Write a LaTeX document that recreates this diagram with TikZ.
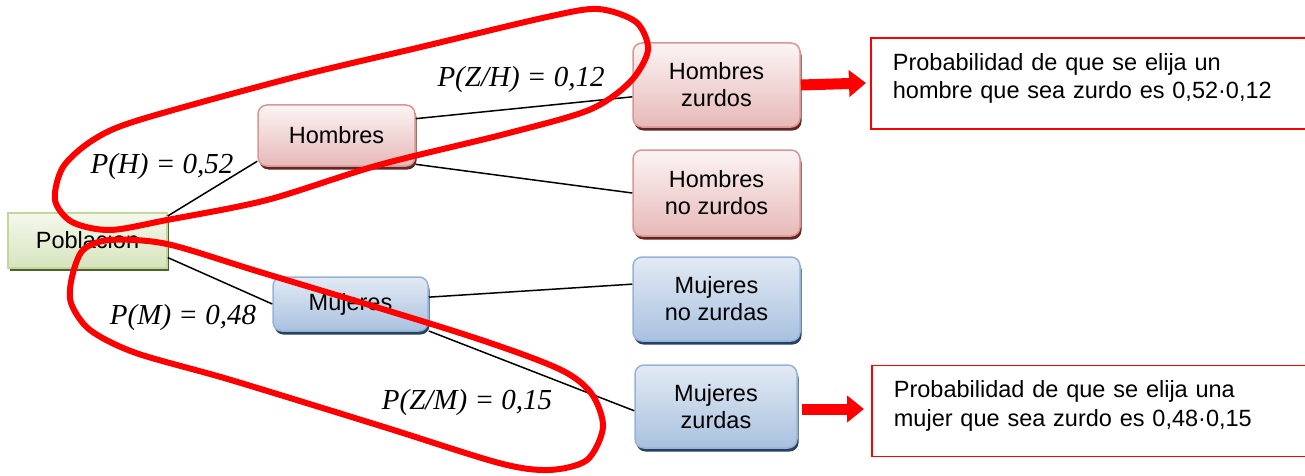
\documentclass[tikz,border=0pt]{standalone}
\usepackage{fontspec}
\setmainfont{Liberation Sans}
\newfontfamily\probfont{Liberation Serif}
\usetikzlibrary{arrows.meta,shadows}

\definecolor{grnTop}{HTML}{F4F8EC}
\definecolor{grnBot}{HTML}{D7E4BD}
\definecolor{grnLine}{HTML}{C3D69B}
\definecolor{grnShadow}{HTML}{4F6228}
\definecolor{redTop}{HTML}{FCF4F4}
\definecolor{redBot}{HTML}{E6B9B8}
\definecolor{redLine}{HTML}{D99694}
\definecolor{redShadow}{HTML}{632523}
\definecolor{bluTop}{HTML}{E2EAF4}
\definecolor{bluBot}{HTML}{A9C1DF}
\definecolor{bluLine}{HTML}{95B3D7}
\definecolor{bluShadow}{HTML}{254061}

\tikzset{
  box/.style={line width=1.5pt,align=center,inner sep=2pt,font=\fontsize{23.5}{27}\selectfont},
  grnbox/.style={box,draw=grnLine,top color=grnTop,bottom color=grnBot,
    general shadow={fill=grnShadow,shadow xshift=2pt,shadow yshift=-3pt}},
  redbox/.style={box,draw=redLine,rounded corners=9pt,top color=redTop,bottom color=redBot,
    general shadow={fill=redShadow,shadow xshift=1.5pt,shadow yshift=-3.5pt}},
  blubox/.style={box,draw=bluLine,rounded corners=9pt,top color=bluTop,bottom color=bluBot,
    general shadow={fill=bluShadow,shadow xshift=1.5pt,shadow yshift=-3.5pt}},
  infobox/.style={draw=red,line width=1.8pt,align=left,text width=400pt,inner xsep=22pt,
    minimum height=91pt,font=\fontsize{23.5}{28.5}\selectfont},
  branch/.style={line width=1.5pt,black},
  lbl/.style={inner sep=0pt,font=\probfont\itshape\fontsize{29}{32}\selectfont},
  ring/.style={red,line width=6pt},
  bigarrow/.style={red,line width=11pt,-{Triangle[length=17pt,width=26pt]}}
}
\newcommand{\lowpad}{\rule[-15pt]{0pt}{15pt}}

\begin{document}
\begin{tikzpicture}[x=1pt,y=-1pt]
\useasboundingbox (0,0) rectangle (1305,476);

% tree nodes
\node[grnbox,minimum width=159pt,minimum height=55pt] (pob) at (87.5,240.5) {Poblacion};
\node[redbox,minimum width=157pt,minimum height=61pt] (hom) at (336.5,135.5) {Hombres};
\node[blubox,minimum width=155pt,minimum height=54pt] (muj) at (350.5,304) {Mujeres};
\node[redbox,minimum width=167pt,minimum height=84pt] (hz) at (716.5,85) {Hombres\\zurdos};
\node[redbox,minimum width=167pt,minimum height=86pt] (hnz) at (716.5,193) {Hombres\\no zurdos};
\node[blubox,minimum width=167pt,minimum height=84pt] (mnz) at (716.5,299) {Mujeres\\no zurdas};
\node[blubox,minimum width=162pt,minimum height=83pt] (mz) at (716,406.5) {Mujeres\\zurdas};

% branches
\draw[branch] (pob.17.8)--(hom.198.6);
\draw[branch] (pob.348.3)--(muj.west);
\draw[branch] (hom.12.6)--(hz.188.2);
\draw[branch] (hom.340.7)--(hnz.west);
\draw[branch] (muj.5.2)--(mnz.170.5);
\draw[branch] (muj.341.5)--(mz.183.9);

% probabilities
\node[lbl] (ph) at (162,167) {P(H) = 0,52};
\node[lbl] (pzh) at (521,80) {P(Z/H) = 0,12};
\node[lbl] (pm) at (183,318) {P(M) = 0,48};
\node[lbl] (pzm) at (467,403) {P(Z/M) = 0,15};

% hand drawn rings
\draw[ring] plot[smooth cycle] coordinates {(55,200) (63,167) (93,140) (139,120) (295,77) (421,47)
  (547,17) (598,9) (636,22) (648,50) (630,82) (589,110) (505,134) (379,165) (267,200) (167,220)
  (110,230) (72,222)};
\draw[ring] plot[smooth cycle] coordinates {(110,240) (83,250) (72,277) (71,303) (90,330) (136,353)
  (231,380) (384,427) (499,463) (549,470) (587,460) (603,427) (591,393) (557,368) (460,333)
  (260,272) (167,244)};

% results
\node[infobox,anchor=west] (iz) at (870,83.5) {Probabilidad de que se elija un\\hombre que sea zurdo es 0,52·0,12\lowpad};
\node[infobox,anchor=west] (mzi) at (871,411) {Probabilidad de que se elija una\\mujer que sea zurdo es 0,48·0,15\lowpad};
\coordinate (ah) at (866,83);
\coordinate (am) at (864,409);
\draw[bigarrow] (hz.east)--(ah);
\draw[bigarrow,shorten <=4pt] (mz.east|-am)--(am);
\end{tikzpicture}
\end{document}
